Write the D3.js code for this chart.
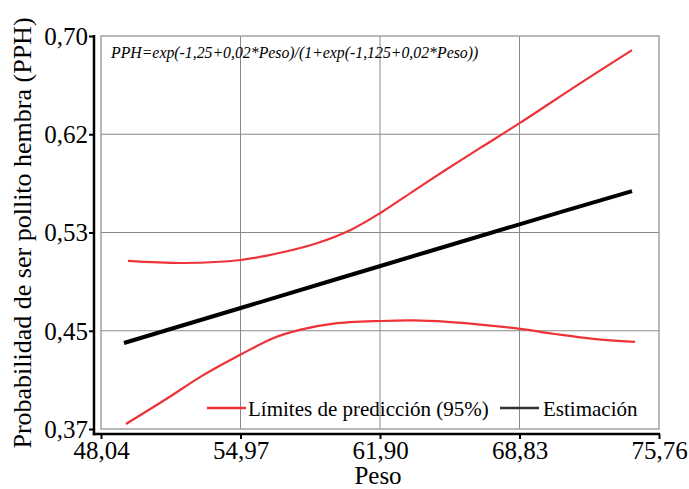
<!DOCTYPE html>
<html><head><meta charset="utf-8">
<script src="https://cdn.jsdelivr.net/npm/d3@7"></script>
<style>body{margin:0;background:#fff}svg{display:block}</style>
</head><body>
<svg id="c" width="689" height="489"></svg>
<script>
const xTickValues = [48.04, 54.97, 61.90, 68.83, 75.76];
const xTickLabels = ["48,04", "54,97", "61,90", "68,83", "75,76"];
const yTickValues = [0.37, 0.4525, 0.535, 0.6175, 0.70];
const yTickLabels = ["0,37", "0,45", "0,53", "0,62", "0,70"];

const estPeso = [49.18, 54.98, 61.92, 68.87, 74.42];
const estPPH  = [0.4422, 0.4716, 0.5069, 0.5421, 0.5698];

const upPeso = [49.38, 52.16, 54.98, 57.11, 58.80, 60.44, 61.92, 63.56, 65.25, 66.88, 68.87, 71.84, 74.42];
const upPPH  = [0.5111, 0.5094, 0.5119, 0.5186, 0.5262, 0.5371, 0.5514, 0.5698, 0.5885, 0.6060, 0.6272, 0.6602, 0.6882];

const loPeso = [49.28, 51.36, 53.00, 54.98, 56.62, 57.96, 59.60, 61.92, 63.56, 65.25, 66.88, 68.87, 70.50, 72.49, 74.57];
const loPPH  = [0.3742, 0.3960, 0.4140, 0.4325, 0.4465, 0.4535, 0.4585, 0.4607, 0.4612, 0.4600, 0.4577, 0.4540, 0.4500, 0.4456, 0.4431];

const formula = "PPH=exp(-1,25+0,02*Peso)/(1+exp(-1,125+0,02*Peso))";
const legendLabels = ["Límites de predicción (95%)", "Estimación"];
const xTitle = "Peso";
const yTitle = "Probabilidad de ser pollito hembra (PPH)";

const svg = d3.select("#c");
const L = 101, R = 659, T = 36, B = 429;
const x = d3.scaleLinear().domain([48.04, 75.76]).range([L, R]);
const y = d3.scaleLinear().domain([0.37, 0.70]).range([B, T]);
const font = "'Liberation Serif', 'Times New Roman', serif";

// grid
const g = svg.append("g");
g.selectAll("line.gx").data(xTickValues.slice(1, -1)).enter().append("line")
  .attr("x1", d => x(d)).attr("x2", d => x(d)).attr("y1", T).attr("y2", B)
  .attr("stroke", "#8a8a8a").attr("stroke-width", 1);
g.selectAll("line.gy").data(yTickValues.slice(1, -1)).enter().append("line")
  .attr("y1", d => y(d)).attr("y2", d => y(d)).attr("x1", L).attr("x2", R)
  .attr("stroke", "#8a8a8a").attr("stroke-width", 1);
g.append("rect").attr("x", L).attr("y", T).attr("width", R - L).attr("height", B - T)
  .attr("fill", "none").attr("stroke", "#a0a0a0").attr("stroke-width", 1.5);

// axes
const yAxisX = 94, xAxisY = 434;
const ya = svg.append("g").attr("transform", `translate(${yAxisX},0)`)
  .call(d3.axisLeft(y).tickValues(yTickValues).tickFormat((d, i) => yTickLabels[i]).tickSize(5).tickSizeOuter(0).tickPadding(1));
ya.select(".domain").remove();
ya.selectAll(".tick line").attr("stroke", "#000").attr("stroke-width", 2);
ya.selectAll(".tick text").attr("font-family", font).attr("font-size", 25).attr("fill", "#000").attr("dy", "0.33em");
svg.append("line").attr("x1", yAxisX).attr("x2", yAxisX).attr("y1", T - 1).attr("y2", xAxisY + 1.25)
  .attr("stroke", "#000").attr("stroke-width", 2.5);

const xa = svg.append("g").attr("transform", `translate(0,${xAxisY})`)
  .call(d3.axisBottom(x).tickValues(xTickValues).tickFormat((d, i) => xTickLabels[i]).tickSize(5).tickSizeOuter(0).tickPadding(2));
xa.select(".domain").remove();
xa.selectAll(".tick line").attr("stroke", "#000").attr("stroke-width", 2);
xa.selectAll(".tick text").attr("font-family", font).attr("font-size", 25).attr("fill", "#000");
svg.append("line").attr("x1", yAxisX - 1.25).attr("x2", R + 1).attr("y1", xAxisY).attr("y2", xAxisY)
  .attr("stroke", "#000").attr("stroke-width", 2.5);

// titles
svg.append("text").attr("x", 378).attr("y", 484).attr("text-anchor", "middle")
  .attr("font-family", font).attr("font-size", 25).text(xTitle);
svg.append("text").attr("transform", `translate(31,233) rotate(-90)`).attr("text-anchor", "middle")
  .attr("font-family", font).attr("font-size", 26).text(yTitle);

// formula
svg.append("text").attr("x", 111).attr("y", 58).attr("font-family", font).attr("font-style", "italic")
  .attr("font-size", 15.8).text(formula);

// lines
const line = d3.line().x(d => x(d[0])).y(d => y(d[1])).curve(d3.curveCatmullRom.alpha(0.5));
svg.append("path").attr("d", line(d3.zip(upPeso, upPPH))).attr("fill", "none").attr("stroke", "#ee3338").attr("stroke-width", 2.2);
svg.append("path").attr("d", line(d3.zip(loPeso, loPPH))).attr("fill", "none").attr("stroke", "#ee3338").attr("stroke-width", 2.2);
svg.append("path").attr("d", line(d3.zip(estPeso, estPPH))).attr("fill", "none").attr("stroke", "#000").attr("stroke-width", 4);

// legend
const lg = svg.append("g");
lg.append("line").attr("x1", 207).attr("x2", 246).attr("y1", 408).attr("y2", 408).attr("stroke", "#ee3338").attr("stroke-width", 2.5);
lg.append("text").attr("x", 248).attr("y", 416).attr("font-family", font).attr("font-size", 21).text(legendLabels[0]);
lg.append("line").attr("x1", 500).attr("x2", 539).attr("y1", 408).attr("y2", 408).attr("stroke", "#333").attr("stroke-width", 2.5);
lg.append("text").attr("x", 543).attr("y", 416).attr("font-family", font).attr("font-size", 21).text(legendLabels[1]);
</script>
</body></html>
